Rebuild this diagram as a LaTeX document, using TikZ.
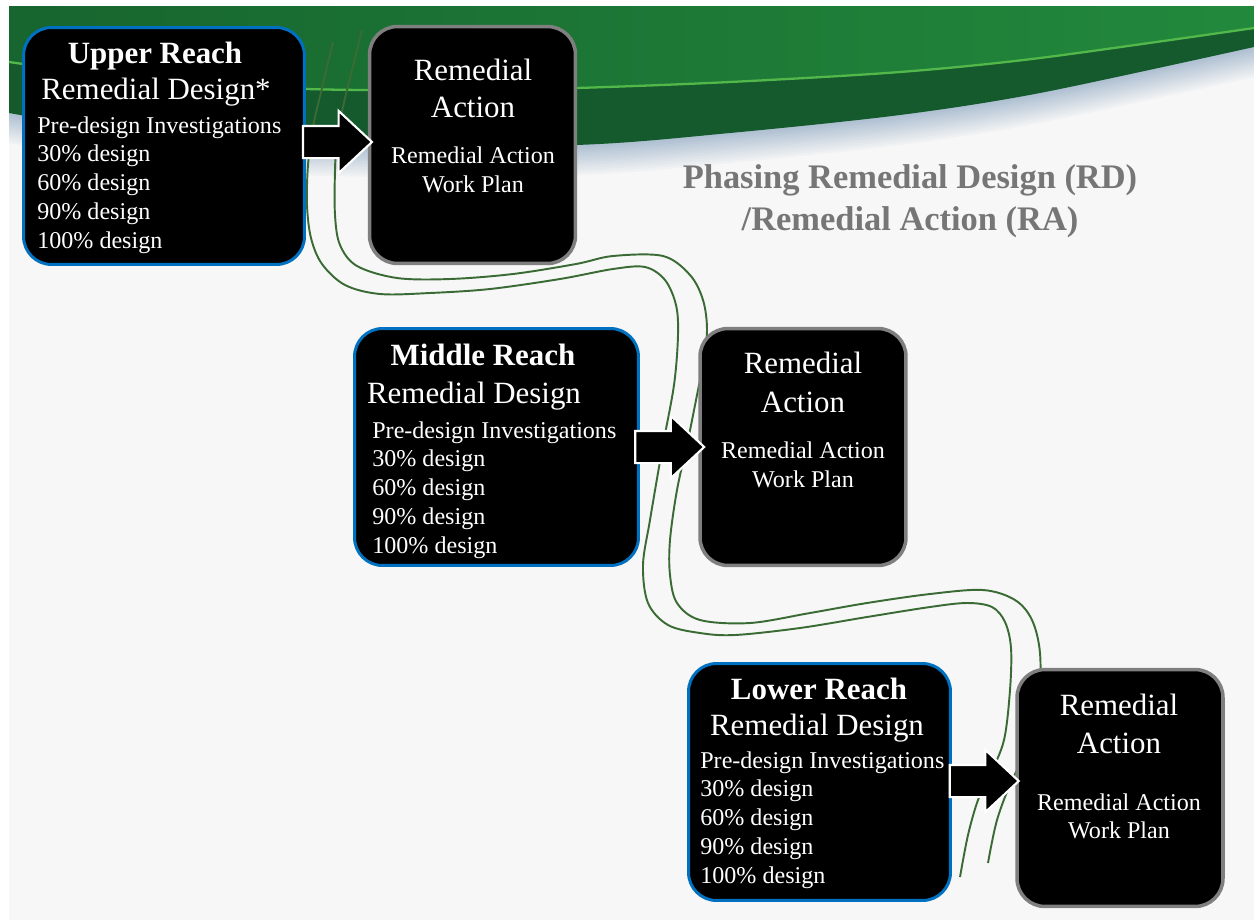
\documentclass[tikz,border=0pt]{standalone}
\usepackage{fontspec}
\setmainfont{Liberation Serif}
\usetikzlibrary{shapes.arrows,calc}

\definecolor{rdblue}{HTML}{0070C0}
\definecolor{ragray}{HTML}{7F7F7F}
\definecolor{pagebg}{HTML}{F7F7F7}
\definecolor{haze}{HTML}{A9BCCF}
\definecolor{bandtop}{HTML}{17652F}
\definecolor{bandtopr}{HTML}{22893C}
\definecolor{banddark}{HTML}{145A2D}
\definecolor{bandline}{HTML}{52B84A}
\definecolor{wave}{HTML}{3A6B34}
\definecolor{titlegray}{HTML}{767676}

\tikzset{
  rdbox/.style={draw=rdblue, fill=black, line width=1.7pt, rounded corners=0.56cm, inner sep=0pt, minimum height=4.74cm},
  rabox/.style={draw=ragray, fill=black, line width=2pt, rounded corners=0.56cm, inner sep=0pt, minimum width=4.12cm, minimum height=4.74cm},
  headtext/.style={text=white, font=\fontsize{17.6}{21}\selectfont, inner sep=0pt, anchor=base},
  itemtext/.style={text=white, font=\fontsize{13.7}{16.5}\selectfont, inner sep=0pt, anchor=base west},
  worktext/.style={text=white, font=\fontsize{13.7}{16.5}\selectfont, inner sep=0pt, anchor=base},
  blockarr/.style={single arrow, draw=white, fill=black, line width=1.2pt, inner xsep=0pt, inner ysep=0.3cm,
    single arrow head extend=0.3cm, single arrow tip angle=86, minimum height=1.38cm, xshift=-0.16cm},
  wavy/.style={draw=wave, line width=1.1pt},
  phase/.style={text=titlegray, font=\bfseries\fontsize{19.6}{23}\selectfont, inner sep=0pt, anchor=base},
}

\begin{document}
\begin{tikzpicture}[x=0.02cm, y=-0.02cm]
  \useasboundingbox (0,0) rectangle (1254,920);
  \fill[white] (0,0) rectangle (1254,920);
  \fill[pagebg] (9,6) rectangle (1254,920);

  % banner with soft blue edge
  \foreach \i [evaluate=\i as \sh using \i*0.05, evaluate=\i as \pc using 100-7.5*\i] in {12,...,1}{
    \begin{scope}[yshift=-\sh cm]
      \fill[haze!\pc!pagebg] (9,6) -- plot[smooth] coordinates {(9,113) (150,135) (330,146) (576,145) (730,133) (900,115) (1040,93) (1254,47)} -- (1254,6) -- cycle;
    \end{scope}
  }
  \fill[banddark] (9,6) -- plot[smooth] coordinates {(9,113) (150,135) (330,146) (576,145) (730,133) (900,115) (1040,93) (1254,47)} -- (1254,6) -- cycle;
  \shade[left color=bandtop, right color=bandtopr] (9,6) -- plot[smooth] coordinates {(9,62) (150,80) (307,89) (450,90) (576,88) (730,82) (900,72) (1040,58) (1254,28)} -- (1254,6) -- cycle;
  \draw[bandline, line width=1.3pt] plot[smooth] coordinates {(9,62) (150,80) (307,89) (450,90) (576,88) (730,82) (900,72) (1040,58) (1254,28)};

  % the two waves
  \draw[wavy] plot[smooth, tension=0.55] coordinates {(333,42) (322,88) (313,127) (308,165) (307,205) (311,238) (322,264) (345,285) (380,294) (430,293) (490,289) (560,279) (613,269) (645,267) (665,280) (676,305) (678,335) (674,385) (662,450) (650,520) (643,565) (648,603) (668,625) (700,633) (735,635) (800,628) (867,617) (930,607) (967,603) (992,607) (1005,622) (1011,648) (1010,690) (1004,740) (990,775) (978,800) (968,835) (960,877)};
  \draw[wavy] plot[smooth, tension=0.55] coordinates {(362,30) (352,70) (343,107) (337,140) (335,170) (335,215) (340,245) (357,266) (397,278) (450,279) (513,274) (576,264) (613,256) (663,256) (690,275) (703,300) (707,330) (703,365) (698,390) (688,440) (677,490) (670,540) (670,575) (677,603) (700,620) (750,623) (810,613) (867,603) (930,594) (983,590) (1015,600) (1032,620) (1040,653) (1039,700) (1030,745) (1012,780) (997,820) (988,863)};

  % upper reach
  \node[rdbox, minimum width=5.62cm] (upperRD) at (164,146) {};
  \node[rabox] (upperRA) at (472.5,145) {};
  \node[headtext] (upperT) at (155,63) {\bfseries Upper Reach};
  \node[headtext] (upperS) at (156,99) {Remedial Design*};
  \foreach \t [count=\i from 0] in {Pre-design Investigations, 30\% design, 60\% design, 90\% design, 100\% design}
    \node[itemtext] (upperI\i) at (37,{133+28.9*\i}) {\t};
  \node[headtext] (upperA1) at (473,80) {Remedial};
  \node[headtext] (upperA2) at (473,117) {Action};
  \node[worktext] (upperW1) at (473,163) {Remedial Action};
  \node[worktext] (upperW2) at (473,192) {Work Plan};
  \node[blockarr, yshift=0.07cm] (upperArr) at ($(upperRD.east)!0.5!(upperRA.west)$) {};

  % middle reach
  \node[rdbox, minimum width=5.68cm] (middleRD) at (496.5,447) {};
  \node[rabox] (middleRA) at (803,447) {};
  \node[headtext] (middleT) at (483,365) {\bfseries Middle Reach};
  \node[headtext] (middleS) at (474,403) {Remedial Design};
  \foreach \t [count=\i from 0] in {Pre-design Investigations, 30\% design, 60\% design, 90\% design, 100\% design}
    \node[itemtext] (middleI\i) at (372,{438+28.9*\i}) {\t};
  \node[headtext] (middleA1) at (803,373) {Remedial};
  \node[headtext] (middleA2) at (803,412) {Action};
  \node[worktext] (middleW1) at (803,458) {Remedial Action};
  \node[worktext] (middleW2) at (803,487) {Work Plan};
  \node[blockarr] (middleArr) at ($(middleRD.east)!0.5!(middleRA.west)$) {};

  % lower reach
  \node[rdbox, minimum width=5.24cm] (lowerRD) at (819.5,782) {};
  \node[rabox] (lowerRA) at (1120,788) {};
  \node[headtext] (lowerT) at (819,699) {\bfseries Lower Reach};
  \node[headtext] (lowerS) at (817,735) {Remedial Design};
  \foreach \t [count=\i from 0] in {Pre-design Investigations, 30\% design, 60\% design, 90\% design, 100\% design}
    \node[itemtext] (lowerI\i) at (700,{768+28.9*\i}) {\t};
  \node[headtext] (lowerA1) at (1119,715) {Remedial};
  \node[headtext] (lowerA2) at (1119,753) {Action};
  \node[worktext] (lowerW1) at (1119,810) {Remedial Action};
  \node[worktext] (lowerW2) at (1119,838) {Work Plan};
  \node[blockarr, yshift=0.08cm] (lowerArr) at ($(lowerRD.east)!0.5!(lowerRA.west)$) {};

  % heading
  \node[phase] (phase1) at (910,188) {Phasing Remedial Design (RD)};
  \node[phase] (phase2) at (910,230) {/Remedial Action (RA)};
\end{tikzpicture}
\end{document}
